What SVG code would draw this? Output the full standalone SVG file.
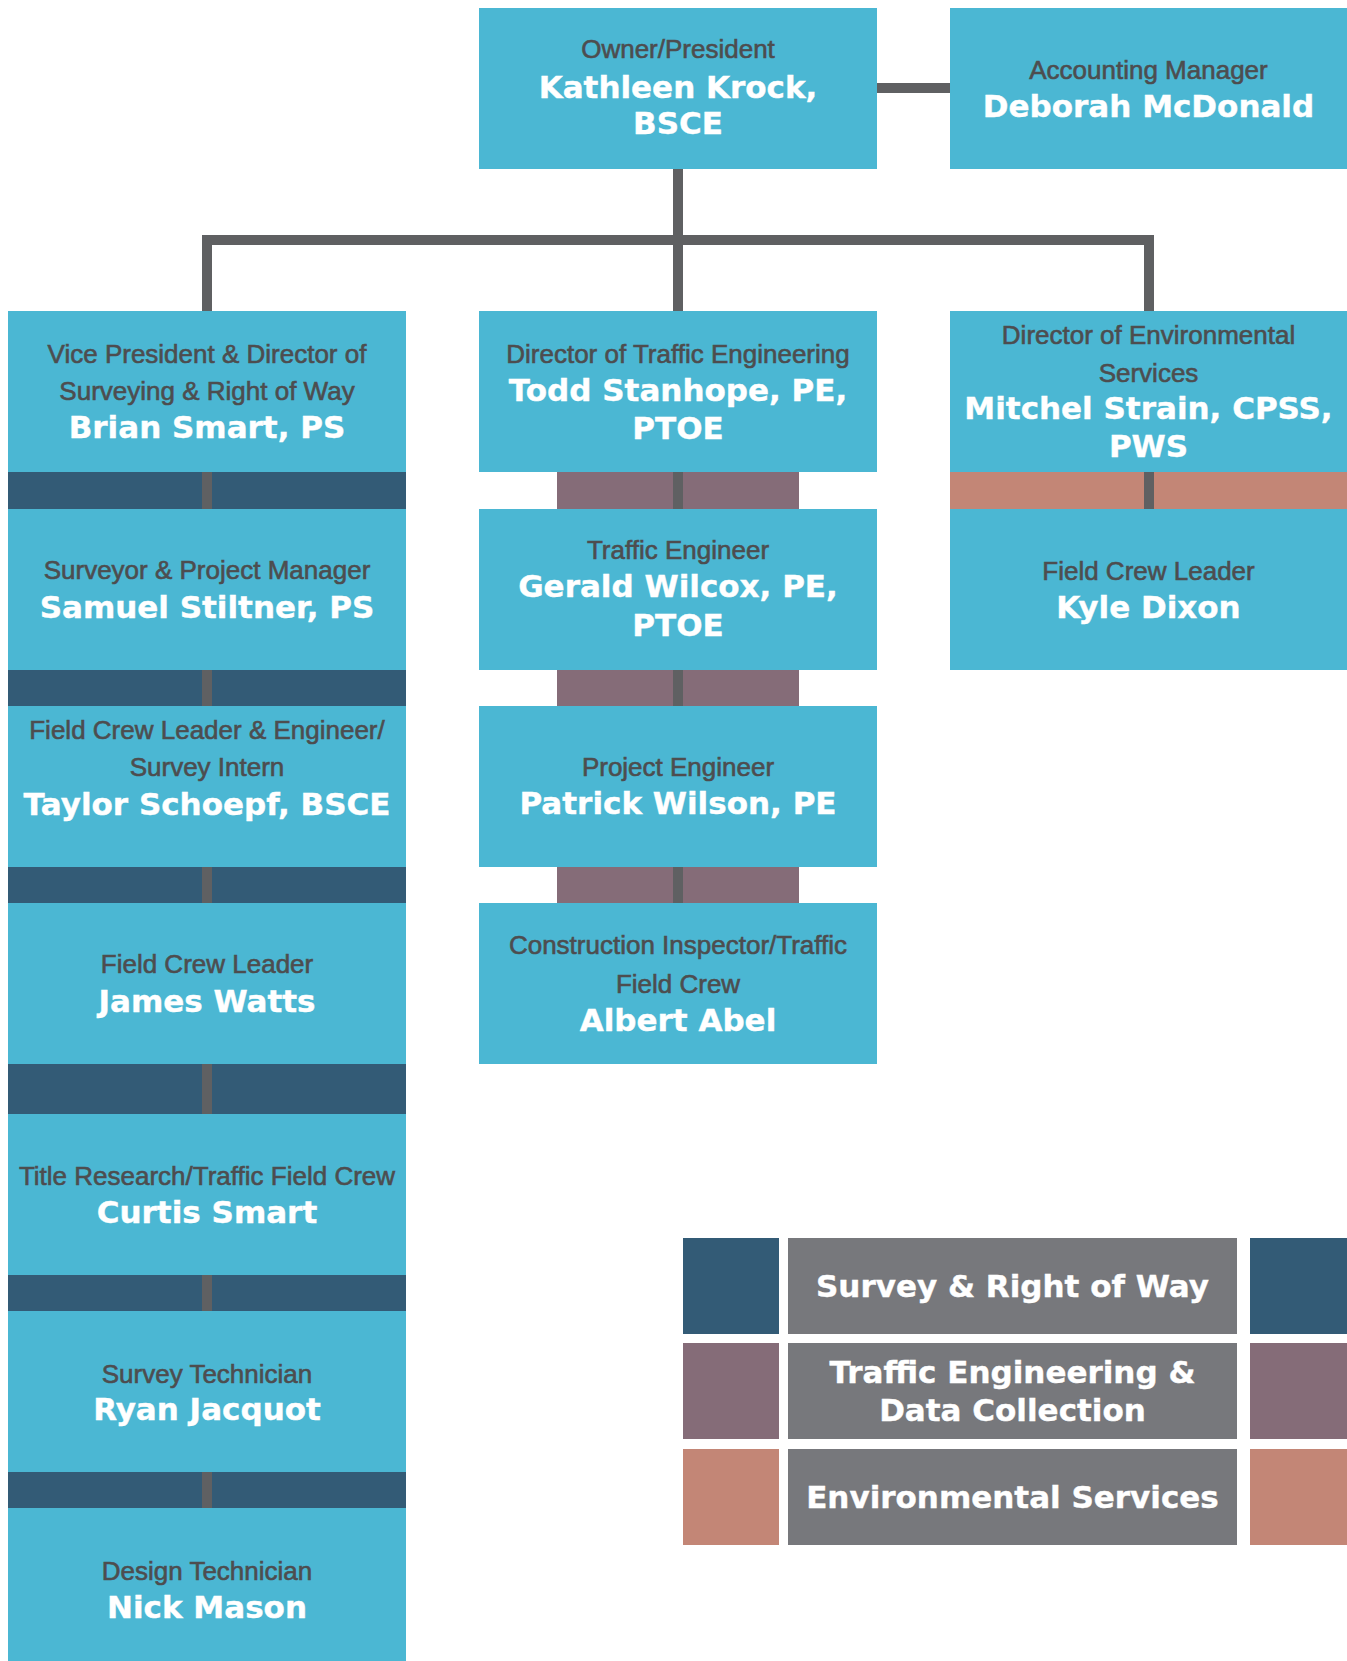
<svg xmlns="http://www.w3.org/2000/svg" width="1347" height="1661" viewBox="0 0 1347 1661">
<style>
.box{fill:#4bb7d3}
.sv{fill:#335b76}
.tr{fill:#856c78}
.en{fill:#c38676}
.lg{fill:#77787c}
.t{font-family:"Liberation Sans",Arial,sans-serif;font-size:26px;fill:#4d4d4f;stroke:#4d4d4f;stroke-width:0.6;text-anchor:middle}
.n{font-family:"DejaVu Sans",Verdana,sans-serif;font-weight:bold;font-size:31px;fill:#ffffff;stroke:#ffffff;stroke-width:0.4;text-anchor:middle}
.c{fill:none;stroke:#5f6062;stroke-width:10;stroke-linejoin:miter;stroke-linecap:butt}
</style>
<rect width="1347" height="1661" fill="#ffffff"/>
<g id="bands">
<rect class="sv" x="8" y="472" width="398" height="37"/>
<rect class="sv" x="8" y="670" width="398" height="36"/>
<rect class="sv" x="8" y="867" width="398" height="36"/>
<rect class="sv" x="8" y="1064" width="398" height="50"/>
<rect class="sv" x="8" y="1275" width="398" height="36"/>
<rect class="sv" x="8" y="1472" width="398" height="36"/>
<rect class="tr" x="557" y="472" width="242" height="37"/>
<rect class="tr" x="557" y="670" width="242" height="36"/>
<rect class="tr" x="557" y="867" width="242" height="36"/>
<rect class="en" x="950" y="472" width="397" height="37"/>
</g>
<g id="connectors">
<path class="c" d="M877,88 H950"/>
<path class="c" d="M678,169 V311"/>
<path class="c" d="M207,311 V240 H1149 V311"/>
<path class="c" d="M207,472 V509 M207,670 V706 M207,867 V903 M207,1064 V1114 M207,1275 V1311 M207,1472 V1508"/>
<path class="c" d="M678,472 V509 M678,670 V706 M678,867 V903"/>
<path class="c" d="M1149,472 V509"/>
</g>
<g id="owner">
<rect class="box" x="479" y="8" width="398" height="161"/>
<text class="t" x="678" y="58">Owner/President</text>
<text class="n" x="678" y="98">Kathleen Krock,</text>
<text class="n" x="678" y="134">BSCE</text>
</g>
<g id="accounting">
<rect class="box" x="950" y="8" width="397" height="161"/>
<text class="t" x="1148.5" y="79">Accounting Manager</text>
<text class="n" x="1148.5" y="117">Deborah McDonald</text>
</g>
<g id="brian">
<rect class="box" x="8" y="311" width="398" height="161"/>
<text class="t" x="207" y="363">Vice President &amp; Director of</text>
<text class="t" x="207" y="400">Surveying &amp; Right of Way</text>
<text class="n" x="207" y="438">Brian Smart, PS</text>
</g>
<g id="samuel">
<rect class="box" x="8" y="509" width="398" height="161"/>
<text class="t" x="207" y="579">Surveyor &amp; Project Manager</text>
<text class="n" x="207" y="618">Samuel Stiltner, PS</text>
</g>
<g id="taylor">
<rect class="box" x="8" y="706" width="398" height="161"/>
<text class="t" x="207" y="739">Field Crew Leader &amp; Engineer/</text>
<text class="t" x="207" y="776">Survey Intern</text>
<text class="n" x="207" y="815">Taylor Schoepf, BSCE</text>
</g>
<g id="james">
<rect class="box" x="8" y="903" width="398" height="161"/>
<text class="t" x="207" y="973">Field Crew Leader</text>
<text class="n" x="207" y="1012">James Watts</text>
</g>
<g id="curtis">
<rect class="box" x="8" y="1114" width="398" height="161"/>
<text class="t" x="207" y="1185">Title Research/Traffic Field Crew</text>
<text class="n" x="207" y="1223">Curtis Smart</text>
</g>
<g id="ryan">
<rect class="box" x="8" y="1311" width="398" height="161"/>
<text class="t" x="207" y="1383">Survey Technician</text>
<text class="n" x="207" y="1420">Ryan Jacquot</text>
</g>
<g id="nick">
<rect class="box" x="8" y="1508" width="398" height="161"/>
<text class="t" x="207" y="1580">Design Technician</text>
<text class="n" x="207" y="1618">Nick Mason</text>
</g>
<g id="todd">
<rect class="box" x="479" y="311" width="398" height="161"/>
<text class="t" x="678" y="363">Director of Traffic Engineering</text>
<text class="n" x="678" y="401">Todd Stanhope, PE,</text>
<text class="n" x="678" y="439">PTOE</text>
</g>
<g id="gerald">
<rect class="box" x="479" y="509" width="398" height="161"/>
<text class="t" x="678" y="559">Traffic Engineer</text>
<text class="n" x="678" y="597">Gerald Wilcox, PE,</text>
<text class="n" x="678" y="636">PTOE</text>
</g>
<g id="patrick">
<rect class="box" x="479" y="706" width="398" height="161"/>
<text class="t" x="678" y="776">Project Engineer</text>
<text class="n" x="678" y="814">Patrick Wilson, PE</text>
</g>
<g id="albert">
<rect class="box" x="479" y="903" width="398" height="161"/>
<text class="t" x="678" y="954">Construction Inspector/Traffic</text>
<text class="t" x="678" y="993">Field Crew</text>
<text class="n" x="678" y="1031">Albert Abel</text>
</g>
<g id="mitchel">
<rect class="box" x="950" y="311" width="397" height="161"/>
<text class="t" x="1148.5" y="344">Director of Environmental</text>
<text class="t" x="1148.5" y="382">Services</text>
<text class="n" x="1148.5" y="419">Mitchel Strain, CPSS,</text>
<text class="n" x="1148.5" y="457">PWS</text>
</g>
<g id="kyle">
<rect class="box" x="950" y="509" width="397" height="161"/>
<text class="t" x="1148.5" y="580">Field Crew Leader</text>
<text class="n" x="1148.5" y="618">Kyle Dixon</text>
</g>
<g id="legend">
<rect class="sv" x="683" y="1238" width="96" height="96"/>
<rect class="lg" x="788" y="1238" width="449" height="96"/>
<rect class="sv" x="1250" y="1238" width="97" height="96"/>
<text class="n" x="1012.5" y="1297">Survey &amp; Right of Way</text>
<rect class="tr" x="683" y="1343" width="96" height="96"/>
<rect class="lg" x="788" y="1343" width="449" height="96"/>
<rect class="tr" x="1250" y="1343" width="97" height="96"/>
<text class="n" x="1012.5" y="1383">Traffic Engineering &amp;</text>
<text class="n" x="1012.5" y="1421">Data Collection</text>
<rect class="en" x="683" y="1449" width="96" height="96"/>
<rect class="lg" x="788" y="1449" width="449" height="96"/>
<rect class="en" x="1250" y="1449" width="97" height="96"/>
<text class="n" x="1012.5" y="1508">Environmental Services</text>
</g>
</svg>
